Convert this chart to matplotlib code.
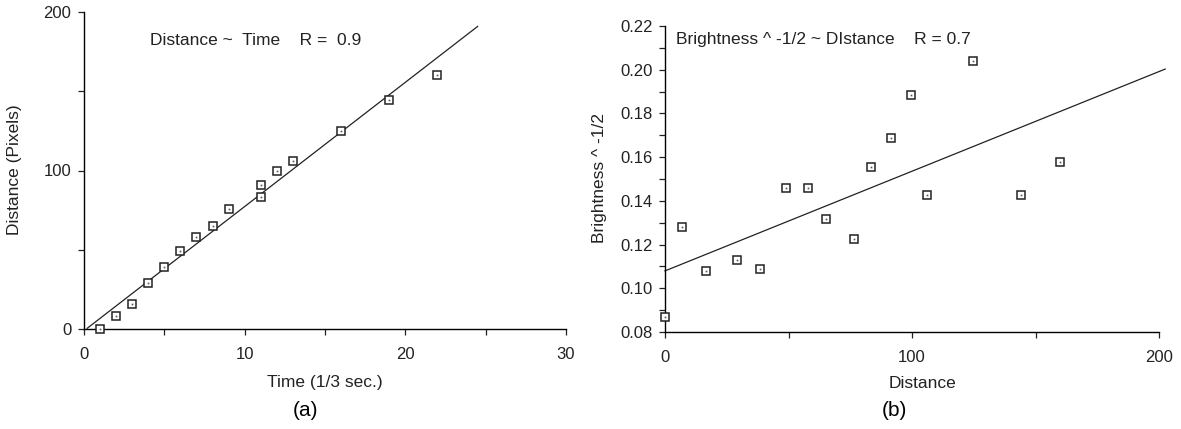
import numpy as np
import matplotlib
matplotlib.use("Agg")
import matplotlib.pyplot as plt
from matplotlib.ticker import MultipleLocator

# ---- data: panel (a) ----
time_a = [1, 2, 3, 4, 5, 6, 7, 8, 9, 11, 11, 12, 13, 16, 19, 22]
dist_a = [0, 8, 16, 29, 39, 49, 58, 65, 76, 91, 83.5, 99.5, 106, 125, 144.5, 160.5]
fit_range_a = [0.2, 24.5]

# ---- data: panel (b) ----
dist_b = [0, 7, 16.5, 29, 38.5, 49, 58, 65, 76.5, 83.5, 91.5, 99.5, 106, 124.5, 144, 160]
bright_b = [0.087, 0.128, 0.108, 0.113, 0.1087, 0.1457, 0.1457, 0.1317, 0.1227,
            0.1556, 0.1687, 0.1886, 0.1427, 0.2042, 0.1427, 0.158]
fit_range_b = [0, 202.5]

W, H = 1181, 429
FONT = ['Liberation Sans', 'DejaVu Sans']
plt.rcParams['font.family'] = FONT
TXT = '#222222'
FS = 12.5
TFS = 12

fig = plt.figure(figsize=(W / 100, H / 100), dpi=100)


def px_axes(l, r, t, b):
    return fig.add_axes([l / W, (H - b) / H, (r - l) / W, (b - t) / H])


def style(ax):
    for s in ['top', 'right']:
        ax.spines[s].set_visible(False)
    for s in ['left', 'bottom']:
        ax.spines[s].set_linewidth(1.0)
    ax.tick_params(which='both', direction='out', length=4, width=0.9,
                   labelsize=TFS, colors=TXT)
    ax.tick_params(axis='x', pad=9)
    ax.tick_params(axis='y', pad=5)


def markers(ax, x, y):
    ax.plot(x, y, ls='none', marker='s', ms=5.5, mfc='white', mec=TXT,
            mew=1.1, clip_on=False, zorder=3)
    ax.plot(x, y, ls='none', marker='s', ms=1.2, mfc='#555555', mec='none',
            clip_on=False, zorder=4)


# ---- panel (a) ----
axa = px_axes(84, 566, 12, 329)
style(axa)
axa.set_xlim(0, 30)
axa.set_ylim(0, 200)
axa.xaxis.set_major_locator(MultipleLocator(10))
axa.xaxis.set_minor_locator(MultipleLocator(5))
axa.yaxis.set_major_locator(MultipleLocator(100))
axa.yaxis.set_minor_locator(MultipleLocator(50))
ka, ba = np.polyfit(time_a, dist_a, 1)
xa = np.array(fit_range_a)
axa.plot(xa, ka * xa + ba, color=TXT, lw=0.9, clip_on=False)
markers(axa, time_a, dist_a)
axa.text(0.137, 0.91, 'Distance ~  Time    R =  0.9', transform=axa.transAxes,
         fontsize=FS, va='center', ha='left', color=TXT)

fig.text(325 / W, 1 - 383 / H, 'Time (1/3 sec.)', ha='center', va='center', fontsize=FS, color=TXT)
fig.text(15 / W, 1 - 170 / H, 'Distance (Pixels)', ha='center', va='center', rotation=90, fontsize=FS, color=TXT)
fig.text(305 / W, 1 - 410 / H, '(a)', ha='center', va='center', fontsize=15, color='black')

# ---- panel (b) ----
axb = px_axes(665, 1159, 26, 332)
style(axb)
axb.set_xlim(0, 200)
axb.set_ylim(0.08, 0.22)
axb.xaxis.set_major_locator(MultipleLocator(100))
axb.xaxis.set_minor_locator(MultipleLocator(50))
axb.yaxis.set_major_locator(MultipleLocator(0.02))
axb.yaxis.set_minor_locator(MultipleLocator(0.01))
axb.yaxis.set_major_formatter(plt.FuncFormatter(lambda v, p: f'{v:.2f}'))
kb, bb = np.polyfit(dist_b, bright_b, 1)
xb = np.array(fit_range_b)
axb.plot(xb, kb * xb + bb, color=TXT, lw=0.9, clip_on=False)
markers(axb, dist_b, bright_b)
axb.text(0.022, 0.957, 'Brightness ^ -1/2 ~ DIstance    R = 0.7', transform=axb.transAxes,
         fontsize=FS, va='center', ha='left', color=TXT)

fig.text(923 / W, 1 - 383 / H, 'Distance', ha='center', va='center', fontsize=FS, color=TXT)
fig.text(599 / W, 1 - 178 / H, 'Brightness ^ -1/2', ha='center', va='center', rotation=90, fontsize=FS, color=TXT)
fig.text(894 / W, 1 - 410 / H, '(b)', ha='center', va='center', fontsize=15, color='black')

fig.savefig('out.png', dpi=100, facecolor='white')
